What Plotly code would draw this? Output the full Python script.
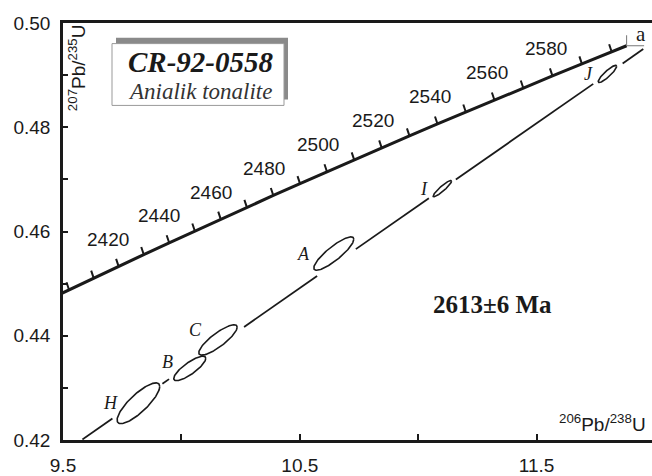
import numpy as np
import plotly.graph_objects as go

# Concordia curve, tabulated every 10 Myr (last point 2595 Ma)
conc_age = [2380, 2390, 2400, 2410, 2420, 2430, 2440, 2450, 2460, 2470, 2480,
            2490, 2500, 2510, 2520, 2530, 2540, 2550, 2560, 2570, 2580, 2590, 2595]
conc_x = [9.42225, 9.52540, 9.62957, 9.73478, 9.84102, 9.94832, 10.05668, 10.16611,
          10.27662, 10.38823, 10.50094, 10.61477, 10.72972, 10.84582, 10.96306,
          11.08146, 11.20103, 11.32179, 11.44374, 11.56690, 11.69128, 11.81689, 11.88017]
conc_y = [0.446573, 0.448819, 0.451068, 0.453321, 0.455577, 0.457837, 0.460100,
          0.462367, 0.464638, 0.466911, 0.469189, 0.471470, 0.473754, 0.476042,
          0.478334, 0.480629, 0.482927, 0.485229, 0.487535, 0.489845, 0.492158,
          0.494474, 0.495634]
tick_ages = list(range(2390, 2600, 10))
label_ages = [2420, 2440, 2460, 2480, 2500, 2520, 2540, 2560, 2580]

# Zircon analyses: centre, half-extent of error ellipse, error correlation
spot_name = ["H", "B", "C", "A", "I", "J"]
spot_x = [9.8185, 10.0353, 10.1544, 10.6436, 11.1020, 11.7992]
spot_y = [0.42705, 0.43374, 0.43919, 0.45577, 0.46823, 0.49023]
spot_sx = [0.0900, 0.0676, 0.0811, 0.0845, 0.0389, 0.0389]
spot_sy = [0.00391, 0.00235, 0.00291, 0.00320, 0.00156, 0.00164]
spot_rho = [0.82, 0.82, 0.84, 0.86, 0.92, 0.89]

# Discordia chord: two points on the line and the drawn pieces (x ranges)
disc_x_ends = [9.582, 11.9504]
disc_y_ends = [0.42011, 0.4950]
disc_pieces = [(9.582, 9.7087), (9.9199, 9.9478), (10.2647, 10.5731),
               (10.7366, 11.0450), (11.1591, 11.7392), (11.8634, 11.9504)]

age_text = "2613±6 Ma"
sample_id = "CR-92-0558"
sample_name = "Anialik tonalite"

x_tickvals = [9.5, 10.0, 10.5, 11.0, 11.5]
x_ticktext = ["9.5", "", "10.5", "", "11.5"]
y_tickvals = [0.42, 0.43, 0.44, 0.45, 0.46, 0.47, 0.48, 0.49, 0.50]
y_ticktext = ["0.42", "", "0.44", "", "0.46", "", "0.48", "", "0.50"]

W, H = 652, 476
ML, MR, MT, MB = 63, 0, 23, 28
PW, PH = W - ML - MR, H - MT - MB


def px(x, y):
    """Pixel position in the page -> paper coordinates."""
    return (x - ML) / PW, (H - MB - y) / PH


SANS = "Liberation Sans"
SERIF = "Liberation Serif"
INK = "#1a1a1a"

fig = go.Figure()

# concordia
fig.add_trace(go.Scatter(x=conc_x, y=conc_y, mode="lines",
                         line=dict(color=INK, width=3), hoverinfo="skip"))

# discordia pieces
slope = (disc_y_ends[1] - disc_y_ends[0]) / (disc_x_ends[1] - disc_x_ends[0])
dx, dy = [], []
for a, b in disc_pieces:
    dx += [a, b, None]
    dy += [disc_y_ends[0] + slope * (a - disc_x_ends[0]),
           disc_y_ends[0] + slope * (b - disc_x_ends[0]), None]
fig.add_trace(go.Scatter(x=dx, y=dy, mode="lines",
                         line=dict(color=INK, width=1.8), hoverinfo="skip"))

# error ellipses
t = np.linspace(0, 2 * np.pi, 121)
for cx, cy, sx, sy, r in zip(spot_x, spot_y, spot_sx, spot_sy, spot_rho):
    d = np.arccos(r)
    fig.add_trace(go.Scatter(x=cx + sx * np.cos(t), y=cy + sy * np.cos(t - d),
                             mode="lines", line=dict(color=INK, width=1.6),
                             hoverinfo="skip"))

ann = []
# age ticks on the concordia
for age in tick_ages:
    i = conc_age.index(age)
    ann.append(dict(x=conc_x[i], y=conc_y[i], xref="x", yref="y", text="",
                    showarrow=True, arrowhead=0, arrowwidth=2, arrowcolor=INK,
                    ax=-3, ay=-9, standoff=0))
for age in label_ages:
    i = conc_age.index(age)
    ann.append(dict(x=conc_x[i], y=conc_y[i], xref="x", yref="y", text=str(age),
                    showarrow=False, xshift=-36, yshift=15,
                    xanchor="center", yanchor="middle",
                    font=dict(family=SANS, size=19, color=INK)))

# end bracket with letter a
ex, ey = conc_x[-1], conc_y[-1]
ann.append(dict(x=ex, y=ey, xref="x", yref="y", text="", showarrow=True,
                arrowhead=0, arrowwidth=1, arrowcolor="#777", ax=0, ay=-12, standoff=0))
ann.append(dict(x=ex, y=ey, xref="x", yref="y", text="", showarrow=True,
                arrowhead=0, arrowwidth=1, arrowcolor="#777", ax=19, ay=0, standoff=0))
ann.append(dict(x=ex, y=ey, xref="x", yref="y", text="a", showarrow=False,
                xshift=14, yshift=12, xanchor="center", yanchor="middle",
                font=dict(family=SERIF, size=21, color=INK)))

# spot letters
letter_shift = {"H": (-28, 0), "B": (-22, 6), "C": (-22, 10),
                "A": (-30, 0), "I": (-18, 0), "J": (-19, 0)}
for n, cx, cy in zip(spot_name, spot_x, spot_y):
    sx_, sy_ = letter_shift[n]
    ann.append(dict(x=cx, y=cy, xref="x", yref="y", text=n, showarrow=False,
                    xshift=sx_, yshift=sy_, xanchor="center", yanchor="middle",
                    font=dict(family=SERIF, size=18, color=INK, style="italic")))


def paper_text(x, y, text, font, **kw):
    xa, ya = px(x, y)
    ann.append(dict(x=xa, y=ya, xref="paper", yref="paper", text=text,
                    showarrow=False, xanchor="center", yanchor="middle",
                    font=font, **kw))


# axis titles inside the frame
paper_text(77, 69, "<sup>207</sup>Pb/<sup>235</sup>U",
           dict(family=SANS, size=19, color=INK), textangle=-90)
paper_text(602, 431, "<sup>206</sup>Pb/<sup>238</sup>U",
           dict(family=SANS, size=19, color=INK))

# age result
paper_text(492, 310, "<b>%s</b>" % age_text, dict(family=SERIF, size=25, color=INK))

# sample box
paper_text(201, 63, "<b>%s</b>" % sample_id,
           dict(family=SERIF, size=29, color=INK, style="italic"))
paper_text(200, 93, sample_name,
           dict(family=SERIF, size=23, color="#333", style="italic"))

shapes = []
x0, y1 = px(116, 38)
x1, y0 = px(288, 101)
shapes.append(dict(type="rect", xref="paper", yref="paper", x0=x0, x1=x1, y0=y0, y1=y1,
                   fillcolor="#8a8a8a", line=dict(width=0), layer="below"))
x0, y1 = px(112, 44)
x1, y0 = px(284, 107)
shapes.append(dict(type="rect", xref="paper", yref="paper", x0=x0, x1=x1, y0=y0, y1=y1,
                   fillcolor="white", line=dict(color="#999", width=1), layer="below"))

fig.update_layout(
    width=W, height=H, margin=dict(l=ML, r=MR, t=MT, b=MB),
    paper_bgcolor="white", plot_bgcolor="white", showlegend=False,
    annotations=ann, shapes=shapes,
    xaxis=dict(range=[9.5, 9.5 + PW / 236.8], tickvals=x_tickvals, ticktext=x_ticktext,
               ticks="inside", ticklen=6, tickwidth=2, tickcolor=INK,
               showline=True, linewidth=2.5, linecolor=INK, mirror=True,
               showgrid=False, zeroline=False, ticklabelstandoff=6,
               tickfont=dict(family=SANS, size=19, color=INK)),
    yaxis=dict(range=[0.42, 0.50], tickvals=y_tickvals, ticktext=y_ticktext,
               ticks="inside", ticklen=5, tickwidth=2, tickcolor=INK,
               showline=True, linewidth=2.5, linecolor=INK, mirror=False,
               showgrid=False, zeroline=False, ticklabelstandoff=6,
               tickfont=dict(family=SANS, size=19, color=INK)),
)

fig.write_html("out.html")
